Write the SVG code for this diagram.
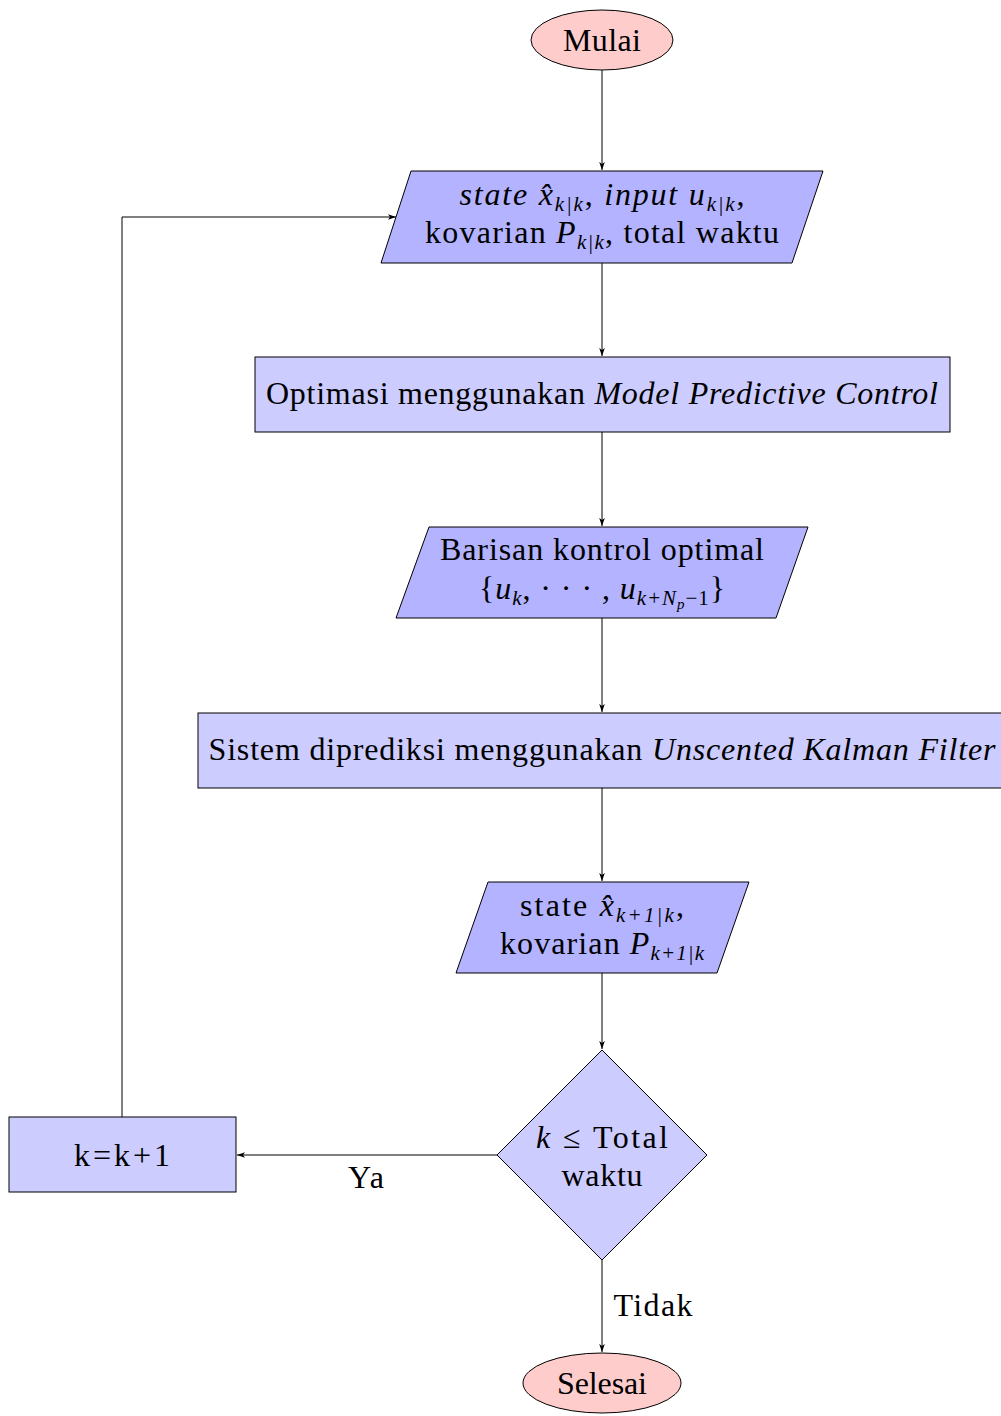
<svg xmlns="http://www.w3.org/2000/svg" width="1001" height="1416" viewBox="0 0 1001 1416">
<defs>
<marker id="arr" viewBox="0 0 10 10" refX="10" refY="5" markerWidth="8" markerHeight="8" markerUnits="userSpaceOnUse" orient="auto">
<path d="M0,1.5 L10,5 L0,8.5 L2.5,5 Z" fill="#000"/>
</marker>
</defs>
<style>
.t{font-family:"Liberation Serif","DejaVu Serif",serif;font-size:32px;fill:#000;text-anchor:middle}
.i{font-style:italic}
.s{font-size:21px}
.sh{stroke:#000;stroke-width:1}
.term{fill:#ffcccc}
.io{fill:#b3b3ff}
.proc{fill:#ccccff}
.c{fill:none;stroke:#000;stroke-width:1}
</style>
<rect width="1001" height="1416" fill="#fff"/>
<g id="connectors">
<line class="c" x1="602" y1="70" x2="602" y2="170" marker-end="url(#arr)"/>
<line class="c" x1="602" y1="263" x2="602" y2="356" marker-end="url(#arr)"/>
<line class="c" x1="602" y1="432" x2="602" y2="526" marker-end="url(#arr)"/>
<line class="c" x1="602" y1="618" x2="602" y2="712" marker-end="url(#arr)"/>
<line class="c" x1="602" y1="788" x2="602" y2="881" marker-end="url(#arr)"/>
<line class="c" x1="602" y1="973" x2="602" y2="1049" marker-end="url(#arr)"/>
<line class="c" x1="497" y1="1155" x2="237" y2="1155" marker-end="url(#arr)"/>
<line class="c" x1="602" y1="1260" x2="602" y2="1352" marker-end="url(#arr)"/>
<polyline class="c" points="122,1117 122,217 396,217" marker-end="url(#arr)"/>
<text class="t" x="366" y="1188" textLength="36">Ya</text>
<text class="t" x="653" y="1316" textLength="79">Tidak</text>
</g>
<g id="mulai">
<ellipse class="sh term" cx="602" cy="40" rx="71" ry="30"/>
<text class="t" x="602" y="51" textLength="78">Mulai</text>
</g>
<g id="input1">
<polygon class="sh io" points="411,171 823,171 792,263 381,263"/>
<text class="t" x="602" y="205" textLength="285"><tspan class="i">state x̂</tspan><tspan class="i s" dy="6">k|k</tspan><tspan dy="-6">, </tspan><tspan class="i">input u</tspan><tspan class="i s" dy="6">k|k</tspan><tspan dy="-6">,</tspan></text>
<text class="t" x="602" y="243" textLength="354">kovarian <tspan class="i">P</tspan><tspan class="i s" dy="6">k|k</tspan><tspan dy="-6">, total waktu</tspan></text>
</g>
<g id="mpc">
<rect class="sh proc" x="255" y="357" width="695" height="75"/>
<text class="t" x="602" y="404" textLength="672">Optimasi menggunakan <tspan class="i">Model Predictive Control</tspan></text>
</g>
<g id="barisan">
<polygon class="sh io" points="429,527 808,527 776,618 396,618"/>
<text class="t" x="602" y="560" textLength="324">Barisan kontrol optimal</text>
<text class="t" x="602" y="599" textLength="246">{<tspan class="i">u</tspan><tspan class="i s" dy="6">k</tspan><tspan dy="-6">, · · · , </tspan><tspan class="i">u</tspan><tspan class="i s" dy="6">k+N</tspan><tspan class="i" font-size="15" dy="4">p</tspan><tspan class="s" dy="-4">−1</tspan><tspan dy="-6">}</tspan></text>
</g>
<g id="ukf">
<rect class="sh proc" x="198" y="713" width="808" height="75"/>
<text class="t" x="602" y="760" textLength="787">Sistem diprediksi menggunakan <tspan class="i">Unscented Kalman Filter</tspan></text>
</g>
<g id="state2">
<polygon class="sh io" points="488,882 749,882 717,973 456,973"/>
<text class="t" x="602" y="916" textLength="164">state <tspan class="i">x̂</tspan><tspan class="i s" dy="6">k+1|k</tspan><tspan dy="-6">,</tspan></text>
<text class="t" x="602" y="954" textLength="204">kovarian <tspan class="i">P</tspan><tspan class="i s" dy="6">k+1|k</tspan></text>
</g>
<g id="decision">
<polygon class="sh proc" points="602,1050 707,1155 602,1260 497,1155"/>
<text class="t" x="602" y="1148" textLength="132"><tspan class="i">k</tspan> ≤ Total</text>
<text class="t" x="602" y="1186" textLength="81">waktu</text>
</g>
<g id="increment">
<rect class="sh proc" x="9" y="1117" width="227" height="75"/>
<text class="t" x="122" y="1166" textLength="96">k=k+1</text>
</g>
<g id="selesai">
<ellipse class="sh term" cx="602" cy="1383" rx="79" ry="30"/>
<text class="t" x="602" y="1394" textLength="90">Selesai</text>
</g>
</svg>
